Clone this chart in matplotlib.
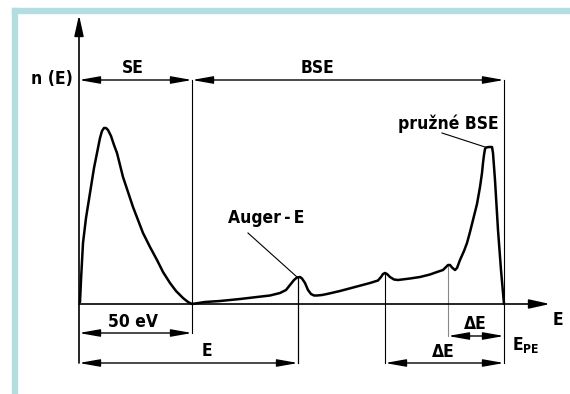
import matplotlib
matplotlib.use('Agg')
import matplotlib.pyplot as plt
from matplotlib.patches import Rectangle


# Energy spectrum of emitted electrons (schematic, arbitrary units)
energy = [1, 2, 4, 7, 11, 15, 18, 21, 23, 25, 27, 29, 32, 35, 38, 41, 44, 49,
          54, 59, 64, 71, 78, 84, 91, 97, 104, 109, 113, 126, 141, 161, 178,
          191, 201, 207, 211, 215, 218, 221, 223, 226, 229, 232, 235, 238, 243,
          248, 261, 276, 291, 299, 302, 304, 306, 308, 311, 315, 319, 331, 341,
          351, 358, 364, 367, 369, 371, 373, 376, 378, 381, 385, 388, 391, 394,
          398, 401, 403, 404, 405, 406, 407, 410, 413, 414, 416, 419, 422, 425]
counts = [2, 24, 61, 86, 111, 136, 151, 166, 173, 176, 176, 174, 168, 159, 151,
          139, 127, 112, 97, 84, 71, 57, 44, 32, 21, 13, 6, 2, 0, 2, 3, 5, 7,
          8.5, 11, 14, 19, 24, 26.5, 27, 25.5, 21, 14, 10, 8.5, 8.5, 9, 10, 13,
          17, 21, 23.5, 27, 30, 31, 30, 27, 24.5, 24, 25.5, 27, 29.5, 32, 34,
          37, 39, 39, 36.5, 34, 36, 44, 53, 61, 72, 84, 100, 117, 131, 141, 149,
          155, 156.5, 157, 157, 151, 124, 74, 34, 0]

e_se = 113       # 50 eV limit SE / BSE
e_auger = 219    # Auger peak
e_loss1 = 306    # loss peaks
e_loss2 = 369
e_pe = 425       # primary energy

n_auger = 27
n_loss1 = 31
n_loss2 = 39

level_top = 224   # SE / BSE dimension line
dim_50 = -29      # 50 eV
dim_de = -32      # upper dE
dim_b = -59       # E and lower dE

frame_col = '#b4dde0'

fig = plt.figure(figsize=(5.7, 3.94), dpi=100)
ax = fig.add_axes([0, 0, 1, 1])
ax.set_xlim(-79, 491)
ax.set_ylim(-90, 304)
ax.axis('off')

# light blue frame (top and left)
fig.patches.append(Rectangle((12 / 570, 1 - 13 / 394), 1, 5 / 394,
                             transform=fig.transFigure, color=frame_col, zorder=0))
fig.patches.append(Rectangle((12 / 570, 0), 5 / 570, 1 - 8 / 394,
                             transform=fig.transFigure, color=frame_col, zorder=0))

k = 'k'
arr = dict(arrowstyle='<|-|>,head_length=0.9,head_width=0.16', color=k, lw=1.0,
           shrinkA=0, shrinkB=0, mutation_scale=14)
arr1 = dict(arrowstyle='-|>,head_length=0.9,head_width=0.2', color=k, lw=1.2,
            shrinkA=0, shrinkB=0, mutation_scale=14)

# spectrum curve
ax.plot(energy, counts, color=k, lw=1.8, solid_joinstyle='round',
        solid_capstyle='round', zorder=3)

# axes
ax.annotate('', xy=(0, 289), xytext=(0, dim_b), arrowprops=arr1)
ax.annotate('', xy=(471, 0), xytext=(0, 0), arrowprops=arr1)

# vertical guide lines
ax.plot([e_se, e_se], [level_top, dim_50], color=k, lw=0.8)
ax.plot([e_pe, e_pe], [level_top, dim_b], color=k, lw=0.8)
ax.plot([e_auger, e_auger], [n_auger, dim_b], color=k, lw=0.9)
ax.plot([e_loss1, e_loss1], [n_loss1, dim_b], color=k, lw=0.8)
ax.plot([e_loss2, e_loss2], [n_loss2, dim_de], color='#888888', lw=0.8)

# dimension arrows
ax.annotate('', xy=(0, level_top), xytext=(e_se, level_top), arrowprops=arr)
ax.annotate('', xy=(e_se, level_top), xytext=(e_pe, level_top), arrowprops=arr)
ax.annotate('', xy=(0, dim_50), xytext=(e_se, dim_50), arrowprops=arr)
ax.annotate('', xy=(0, dim_b), xytext=(e_auger, dim_b), arrowprops=arr)
ax.annotate('', xy=(e_loss1, dim_b), xytext=(e_pe, dim_b), arrowprops=arr)
ax.annotate('', xy=(e_loss2, dim_de), xytext=(e_pe, dim_de), arrowprops=arr)

# leader lines
ax.plot([169, e_auger - 1], [71, n_auger], color=k, lw=0.8)
ax.plot([363, 406], [171, 157], color=k, lw=0.8)

fs = 12.5
tk = dict(fontsize=fs, ha='center', va='center', color=k, fontweight='bold',
          fontstretch='condensed')
ax.text(-6, level_top + 1, 'n (E)', **dict(tk, ha='right'))
ax.text(54, 236, 'SE', **tk)
ax.text(239, 236, 'BSE', **tk)
ax.text(369, 180, 'pružné BSE', **tk)
ax.text(187, 86, 'Auger\u2009-\u2009E', **tk)
ax.text(54, -18, '50 eV', **tk)
ax.text(128, -47, 'E', **tk)
ax.text(364, -48, 'ΔE', **tk)
ax.text(396, -20, 'ΔE', **tk)
ax.text(433, -41, r'E$_\mathregular{PE}$', **dict(tk, ha='left'))
ax.text(479, -16, 'E', **tk)

fig.savefig('out.png', dpi=100)
